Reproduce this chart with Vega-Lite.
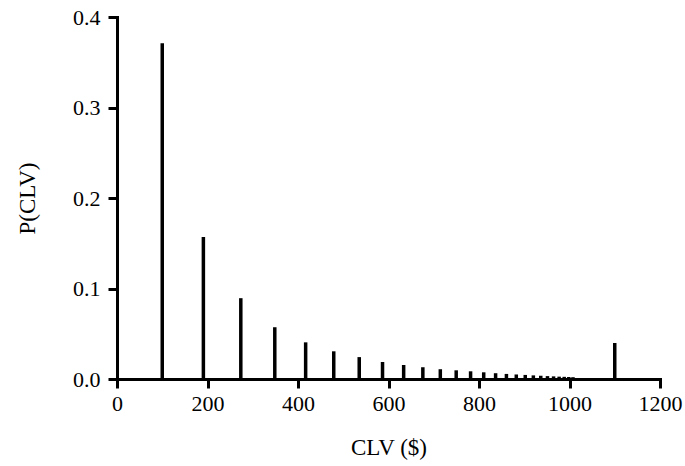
{
  "$schema": "https://vega.github.io/schema/vega-lite/v6.json",
  "width": 543,
  "height": 362,
  "autosize": {"type": "none"},
  "padding": {"left": 117, "top": 17, "right": 25, "bottom": 87},
  "background": "white",
  "config": {
    "view": {"stroke": null},
    "font": "Liberation Serif",
    "axis": {
      "grid": false,
      "domainColor": "black",
      "domainWidth": 3,
      "domainCap": "square",
      "tickColor": "black",
      "tickWidth": 3,
      "tickSize": 9,
      "labelFlush": false,
      "labelFont": "Liberation Serif",
      "labelFontSize": 22,
      "labelColor": "black",
      "titleFont": "Liberation Serif",
      "titleFontSize": 23,
      "titleFontWeight": "normal",
      "titleColor": "black"
    }
  },
  "data": {
    "values": [
      {"CLV": 100, "P": 0.371},
      {"CLV": 190.9, "P": 0.157},
      {"CLV": 273.6, "P": 0.0893},
      {"CLV": 348.7, "P": 0.0572},
      {"CLV": 416.9, "P": 0.0405},
      {"CLV": 479.0, "P": 0.0306},
      {"CLV": 535.3, "P": 0.0242},
      {"CLV": 586.8, "P": 0.0188},
      {"CLV": 633.5, "P": 0.0155},
      {"CLV": 675.9, "P": 0.013},
      {"CLV": 714.5, "P": 0.0108},
      {"CLV": 749.6, "P": 0.0096},
      {"CLV": 781.4, "P": 0.0085},
      {"CLV": 810.4, "P": 0.0074},
      {"CLV": 836.7, "P": 0.0064},
      {"CLV": 860.6, "P": 0.0056},
      {"CLV": 882.4, "P": 0.005},
      {"CLV": 902.2, "P": 0.0045},
      {"CLV": 920.1, "P": 0.004},
      {"CLV": 936.5, "P": 0.0036},
      {"CLV": 951.3, "P": 0.0032},
      {"CLV": 964.8, "P": 0.0029},
      {"CLV": 977.1, "P": 0.0026},
      {"CLV": 988.3, "P": 0.0024},
      {"CLV": 998.4, "P": 0.0022},
      {"CLV": 1007.7, "P": 0.002},
      {"CLV": 1100, "P": 0.0398}
    ]
  },
  "mark": {"type": "rule", "color": "black", "strokeWidth": 3.5},
  "encoding": {
    "x": {
      "field": "CLV",
      "type": "quantitative",
      "scale": {"domain": [0, 1200], "nice": false},
      "axis": {"values": [0, 200, 400, 600, 800, 1000, 1200], "format": "d", "title": "CLV ($)", "labelPadding": 5, "titlePadding": 22}
    },
    "y": {
      "field": "P",
      "type": "quantitative",
      "scale": {"domain": [0, 0.4], "nice": false},
      "axis": {"values": [0, 0.1, 0.2, 0.3, 0.4], "format": ".1f", "title": "P(CLV)", "labelPadding": 8, "titlePadding": 33}
    },
    "y2": {"datum": 0}
  }
}
